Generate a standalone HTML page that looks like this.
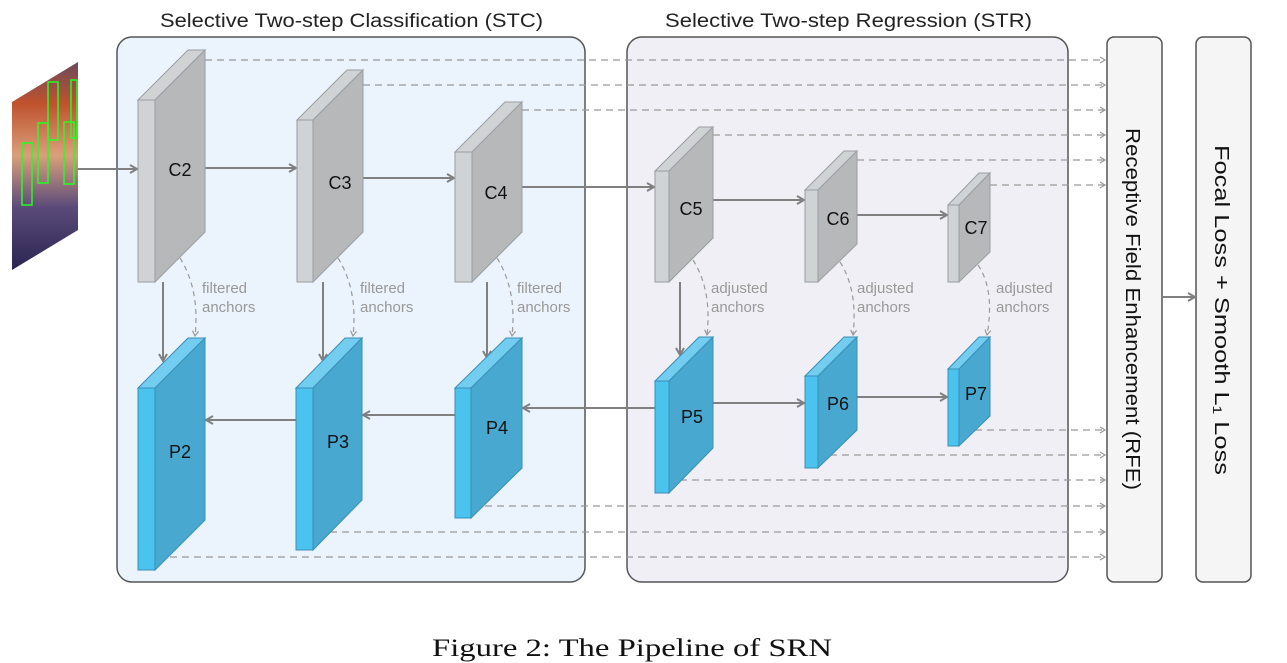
<!DOCTYPE html>
<html><head><meta charset="utf-8"><style>
html,body{margin:0;padding:0;background:#fff;}
svg{display:block;font-family:"Liberation Sans",sans-serif;}
</style></head><body>
<svg width="1287" height="663" viewBox="0 0 1287 663" xmlns="http://www.w3.org/2000/svg">
<defs>
<marker id="a" markerWidth="10" markerHeight="10" refX="8" refY="5" orient="auto" markerUnits="userSpaceOnUse"><path d="M1,1 L8,5 L1,9" fill="none" stroke="#808080" stroke-width="2"/></marker>
<marker id="d" markerWidth="8" markerHeight="8" refX="6" refY="4" orient="auto" markerUnits="userSpaceOnUse"><path d="M1,1 L6,4 L1,7" fill="none" stroke="#999" stroke-width="1.2"/></marker>
<linearGradient id="img" x1="0" y1="0" x2="0" y2="1">
<stop offset="0" stop-color="#6a4a5a"/><stop offset="0.2" stop-color="#c0522e"/><stop offset="0.45" stop-color="#d9a07a"/><stop offset="0.7" stop-color="#5a4a7a"/><stop offset="1" stop-color="#2a2550"/></linearGradient>
</defs>
<text x="160" y="27" font-size="19" textLength="383" lengthAdjust="spacingAndGlyphs" fill="#222">Selective Two-step Classification (STC)</text>
<text x="665" y="27" font-size="19" textLength="367" lengthAdjust="spacingAndGlyphs" fill="#222">Selective Two-step Regression (STR)</text>
<rect x="117" y="37" width="468" height="545" rx="15" fill="#ebf3fc" stroke="#555" stroke-width="1.5"/>
<rect x="627" y="37" width="441" height="545" rx="15" fill="#f0eff6" stroke="#555" stroke-width="1.5"/>
<rect x="1107" y="37" width="55" height="545" rx="7" fill="#f5f5f5" stroke="#555" stroke-width="1.5"/>
<rect x="1196" y="37" width="55" height="545" rx="7" fill="#f5f5f5" stroke="#555" stroke-width="1.5"/>
<text transform="translate(1126,128) rotate(90)" font-size="20" textLength="362" lengthAdjust="spacingAndGlyphs" fill="#111">Receptive Field Enhancement (RFE)</text>
<text transform="translate(1215,145) rotate(90)" font-size="20" textLength="330" lengthAdjust="spacingAndGlyphs" fill="#111">Focal Loss  +  Smooth L₁ Loss</text>
<!-- image -->
<polygon points="12,102 78,62 78,230 12,270" fill="url(#img)"/>
<g fill="none" stroke="#2f2" stroke-width="1.5">
<rect x="22" y="143" width="10" height="62"/><rect x="38" y="123" width="10" height="60"/><rect x="48" y="82" width="10" height="58"/><rect x="64" y="122" width="10" height="62"/><rect x="71" y="80" width="6" height="58"/>
</g>
<!-- dashed lines -->
<g stroke="#999" stroke-width="1.3" stroke-dasharray="7,5" fill="none" marker-end="url(#d)">
<line x1="205" y1="60" x2="1105" y2="60"/><line x1="363" y1="85" x2="1105" y2="85"/><line x1="522" y1="110" x2="1105" y2="110"/>
<line x1="713" y1="135" x2="1105" y2="135"/><line x1="857" y1="160" x2="1105" y2="160"/><line x1="990" y1="185" x2="1105" y2="185"/>
<line x1="975" y1="430" x2="1105" y2="430"/><line x1="830" y1="455" x2="1105" y2="455"/><line x1="680" y1="480" x2="1105" y2="480"/>
<line x1="485" y1="506" x2="1105" y2="506"/><line x1="330" y1="532" x2="1105" y2="532"/><line x1="170" y1="557" x2="1105" y2="557"/>
</g>
<!-- curved dashed -->
<g stroke="#999" stroke-width="1.2" stroke-dasharray="5,4" fill="none" marker-end="url(#d)">
<path d="M180,258 Q200,290 195,336"/><path d="M338,258 Q358,290 353,336"/><path d="M497,258 Q517,290 512,336"/>
<path d="M693,260 Q712,290 707,335"/><path d="M840,262 Q858,290 853,335"/><path d="M978,265 Q995,290 987,335"/>
</g>
<g font-size="15" fill="#999">
<text x="202" y="293">filtered</text><text x="202" y="312">anchors</text>
<text x="360" y="293">filtered</text><text x="360" y="312">anchors</text>
<text x="517" y="293">filtered</text><text x="517" y="312">anchors</text>
<text x="711" y="293">adjusted</text><text x="711" y="312">anchors</text>
<text x="857" y="293">adjusted</text><text x="857" y="312">anchors</text>
<text x="996" y="293">adjusted</text><text x="996" y="312">anchors</text>
</g>
<!-- solid arrows -->
<g stroke="#808080" stroke-width="2" fill="none" marker-end="url(#a)">
<line x1="78" y1="169" x2="137" y2="169"/><line x1="205" y1="168" x2="296" y2="168"/><line x1="363" y1="178" x2="454" y2="178"/>
<line x1="522" y1="187" x2="654" y2="187"/><line x1="713" y1="200" x2="804" y2="200"/><line x1="857" y1="215" x2="947" y2="215"/>
<line x1="163" y1="282" x2="163" y2="361"/><line x1="323" y1="282" x2="323" y2="361"/><line x1="487" y1="282" x2="487" y2="358"/><line x1="680" y1="282" x2="680" y2="355"/>
<line x1="713" y1="403" x2="804" y2="403"/><line x1="857" y1="397" x2="947" y2="397"/>
<line x1="655" y1="408" x2="523" y2="408"/><line x1="455" y1="415" x2="363" y2="415"/><line x1="296" y1="420" x2="206" y2="420"/>
<line x1="1162" y1="297" x2="1195" y2="297"/>
</g>
<!-- C blocks -->
<g stroke="#9a9ea2" stroke-width="1">
<g fill="#cfd3d6"><rect x="138" y="100" width="17" height="182"/><polygon points="138,100 188,50 205,50 155,100"/></g><polygon points="155,100 205,50 205,232 155,282" fill="#b6b8ba"/>
<g fill="#cfd3d6"><rect x="297" y="120" width="16" height="162"/><polygon points="297,120 347,70 363,70 313,120"/></g><polygon points="313,120 363,70 363,232 313,282" fill="#b6b8ba"/>
<g fill="#cfd3d6"><rect x="455" y="152" width="17" height="130"/><polygon points="455,152 505,102 522,102 472,152"/></g><polygon points="472,152 522,102 522,232 472,282" fill="#b6b8ba"/>
<g fill="#cfd3d6"><rect x="655" y="171" width="14" height="111"/><polygon points="655,171 699,127 713,127 669,171"/></g><polygon points="669,171 713,127 713,238 669,282" fill="#b6b8ba"/>
<g fill="#cfd3d6"><rect x="805" y="190" width="13" height="92"/><polygon points="805,190 844,151 857,151 818,190"/></g><polygon points="818,190 857,151 857,244 818,282" fill="#b6b8ba"/>
<g fill="#cfd3d6"><rect x="948" y="205" width="11" height="77"/><polygon points="948,205 979,173 990,173 959,205"/></g><polygon points="959,205 990,173 990,252 959,282" fill="#b6b8ba"/>
</g>
<!-- P blocks -->
<g stroke="#3a8fb5" stroke-width="1">
<rect x="138" y="388" width="17" height="182" fill="#4bc3ef"/><polygon points="138,388 188,338 205,338 155,388" fill="#72cdf0"/><polygon points="155,388 205,338 205,520 155,570" fill="#48a8d0"/>
<rect x="296" y="388" width="17" height="162" fill="#4bc3ef"/><polygon points="296,388 345,338 362,338 313,388" fill="#72cdf0"/><polygon points="313,388 362,338 362,500 313,550" fill="#48a8d0"/>
<rect x="455" y="388" width="16" height="130" fill="#4bc3ef"/><polygon points="455,388 506,338 522,338 471,388" fill="#72cdf0"/><polygon points="471,388 522,338 522,468 471,518" fill="#48a8d0"/>
<rect x="655" y="381" width="14" height="112" fill="#4bc3ef"/><polygon points="655,381 699,337 713,337 669,381" fill="#72cdf0"/><polygon points="669,381 713,337 713,448 669,493" fill="#48a8d0"/>
<rect x="805" y="376" width="13" height="92" fill="#4bc3ef"/><polygon points="805,376 844,337 857,337 818,376" fill="#72cdf0"/><polygon points="818,376 857,337 857,430 818,468" fill="#48a8d0"/>
<rect x="948" y="369" width="11" height="77" fill="#4bc3ef"/><polygon points="948,369 979,337 990,337 959,369" fill="#72cdf0"/><polygon points="959,369 990,337 990,416 959,446" fill="#48a8d0"/>
</g>
<g font-size="18" fill="#111" text-anchor="middle">
<text x="180" y="176">C2</text><text x="340" y="189">C3</text><text x="496" y="199">C4</text><text x="691" y="215">C5</text><text x="838" y="225">C6</text><text x="976" y="234">C7</text>
<text x="180" y="458">P2</text><text x="338" y="448">P3</text><text x="497" y="434">P4</text><text x="692" y="423">P5</text><text x="838" y="410">P6</text><text x="976" y="400">P7</text>
</g>
<text x="432" y="656" font-size="25" textLength="400" lengthAdjust="spacingAndGlyphs" fill="#111" font-family="Liberation Serif, serif">Figure 2: The Pipeline of SRN</text>
</svg>
</body></html>
